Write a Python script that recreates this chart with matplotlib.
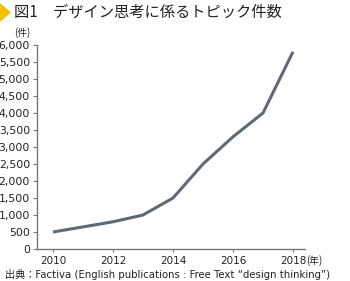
import matplotlib
matplotlib.use("Agg")
import matplotlib.pyplot as plt
from matplotlib.patches import Polygon

years = [2010, 2011, 2012, 2013, 2014, 2015, 2016, 2017, 2018]
counts = [500, 650, 800, 1000, 1500, 2500, 3300, 4000, 5800]
yticks = list(range(0, 6001, 500))
xticks = [2010, 2012, 2014, 2016, 2018]

plt.rcParams['font.family'] = ['Noto Sans CJK JP', 'DejaVu Sans']
LAT = ['DejaVu Sans', 'Noto Sans CJK JP']
W, H = 350, 281
fig = plt.figure(figsize=(W/100, H/100), dpi=100)
ax = fig.add_axes([37/W, 1-249/H, (305-37)/W, (249-45)/H])

ax.plot(years, counts, color='#606a75', lw=2.2, solid_capstyle='butt')
ax.set_ylim(0, 6000)
ax.set_xlim(2010 - 16/30, 2010 + 252/30)
ax.set_yticks(yticks)
ax.set_yticklabels([f"{v:,}" for v in yticks], family=LAT)
ax.set_xticks(xticks)
ax.set_xticklabels([str(x) for x in xticks], family=LAT)
for s in ['top', 'right']:
    ax.spines[s].set_visible(False)
for s in ['left', 'bottom']:
    ax.spines[s].set_color('#777777')
    ax.spines[s].set_linewidth(1.0)
ax.tick_params(axis='y', length=3, width=0.8, color='#777777', labelsize=7.8, pad=2, labelcolor='#222222')
ax.tick_params(axis='x', length=2, width=0.8, color='#777777', labelsize=7.5, pad=3, labelcolor='#222222')

# title
tri = Polygon([[0, 1-4/H], [0, 1-21/H], [10/W, 1-12.5/H]], closed=True,
              transform=fig.transFigure, color='#f5c000')
fig.patches.append(tri)
fig.text(14/W, 1-12.5/H, "図1　デザイン思考に係るトピック件数", fontsize=11,
         va='center', ha='left', color='#222222')
fig.text(22/W, 1-33/H, "(件)", fontsize=7, va='center', ha='center', color='#222222')
fig.text(306/W, 1-261/H, "(年)", fontsize=7, va='center', ha='left', color='#222222')
fig.text(5/W, 1-274/H, "出典：Factiva (English publications : Free Text \u201cdesign thinking\u201d)",
         fontsize=7.3, va='center', ha='left', color='#222222', family=LAT)

fig.savefig("out.png", dpi=100)
